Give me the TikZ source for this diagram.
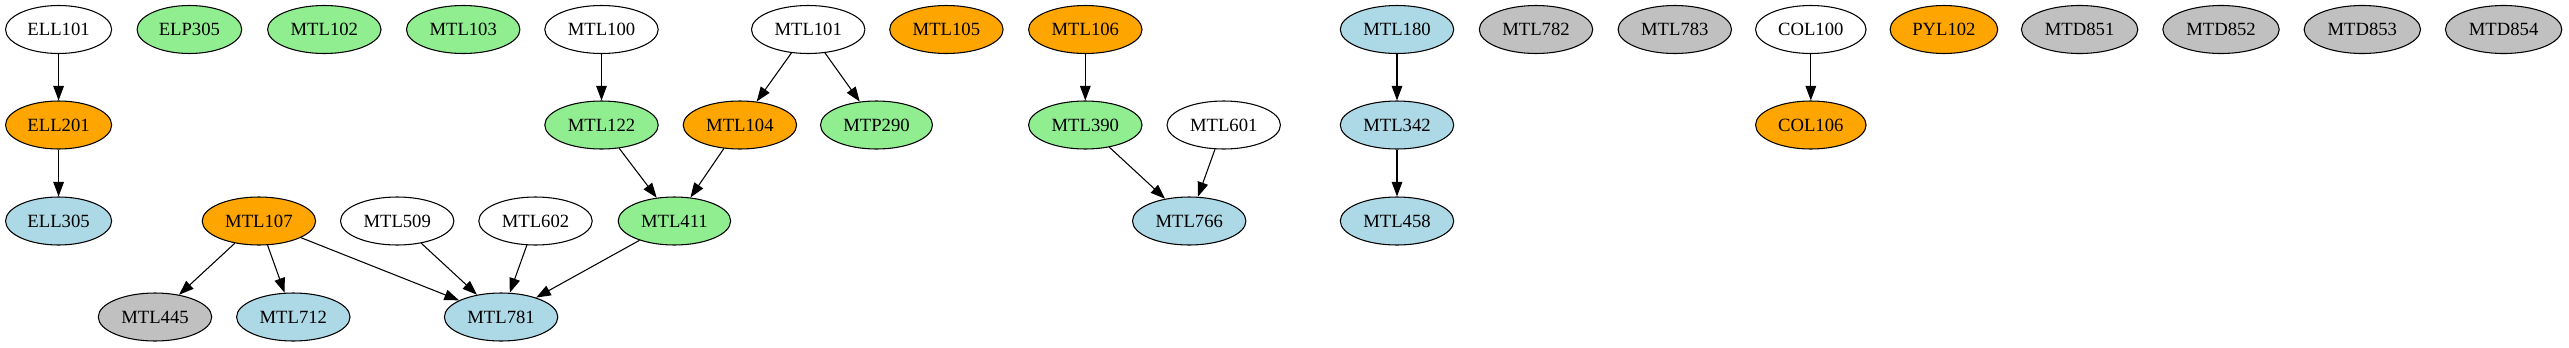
\documentclass[tikz,border=0pt]{standalone}
\usepackage{fontspec}
\setmainfont{Liberation Serif}
\usetikzlibrary{arrows.meta,shapes.geometric}
\definecolor{gvorange}{HTML}{FFA500}
\definecolor{gvgreen}{HTML}{90EE90}
\definecolor{gvblue}{HTML}{ADD8E6}
\definecolor{gvgray}{HTML}{C0C0C0}

\begin{document}
\begin{tikzpicture}[x=0.75pt,y=-0.75pt,
  course/.style={ellipse,draw,line width=0.8pt,minimum height=36pt,
    inner xsep=4.8pt,inner ysep=2pt,font=\fontsize{14}{16}\selectfont},
  pre/.style={-{Triangle[length=11pt,width=8pt]},line width=0.8pt}]
\fill[white] (0,0) rectangle (2569,347);
\useasboundingbox (0,0) rectangle (2569,347);
% first rank
\node[course,fill=white] (ell101) at (58.6,29.5) {ELL101};
\node[course,fill=gvgreen] (elp305) at (189.4,29.5) {ELP305};
\node[course,fill=gvgreen] (mtl102) at (324.3,29.5) {MTL102};
\node[course,fill=gvgreen] (mtl103) at (463.2,29.5) {MTL103};
\node[course,fill=white] (mtl100) at (601.5,29.5) {MTL100};
\node[course,fill=white] (mtl101) at (808.2,29.5) {MTL101};
\node[course,fill=gvorange] (mtl105) at (946.4,29.5) {MTL105};
\node[course,fill=gvorange] (mtl106) at (1085.3,29.5) {MTL106};
\node[course,fill=gvblue] (mtl180) at (1397,29.5) {MTL180};
\node[course,fill=gvgray] (mtl782) at (1536,29.5) {MTL782};
\node[course,fill=gvgray] (mtl783) at (1674.8,29.5) {MTL783};
\node[course,fill=white] (col100) at (1810.8,29.5) {COL100};
\node[course,fill=gvorange] (pyl102) at (1943.9,29.5) {PYL102};
\node[course,fill=gvgray] (mtd851) at (2079.6,29.5) {MTD851};
\node[course,fill=gvgray] (mtd852) at (2221,29.5) {MTD852};
\node[course,fill=gvgray] (mtd853) at (2362.3,29.5) {MTD853};
\node[course,fill=gvgray] (mtd854) at (2503.6,29.5) {MTD854};
% second rank
\node[course,fill=gvorange] (ell201) at (58.6,125) {ELL201};
\node[course,fill=gvgreen] (mtl122) at (601.5,125) {MTL122};
\node[course,fill=gvorange] (mtl104) at (739.9,125) {MTL104};
\node[course,fill=gvgreen] (mtp290) at (876.5,125) {MTP290};
\node[course,fill=gvgreen] (mtl390) at (1085.3,125) {MTL390};
\node[course,fill=white] (mtl601) at (1223.7,125) {MTL601};
\node[course,fill=gvblue] (mtl342) at (1397,125) {MTL342};
\node[course,fill=gvorange] (col106) at (1810.8,125) {COL106};
% third rank
\node[course,fill=gvblue] (ell305) at (58.6,221) {ELL305};
\node[course,fill=gvorange] (mtl107) at (258.9,221) {MTL107};
\node[course,fill=white] (mtl509) at (397.2,221) {MTL509};
\node[course,fill=white] (mtl602) at (535.5,221) {MTL602};
\node[course,fill=gvgreen] (mtl411) at (674.4,221) {MTL411};
\node[course,fill=gvblue] (mtl766) at (1189.2,221) {MTL766};
\node[course,fill=gvblue] (mtl458) at (1397,221) {MTL458};
% fourth rank
\node[course,fill=gvgray] (mtl445) at (155,317) {MTL445};
\node[course,fill=gvblue] (mtl712) at (293.3,317) {MTL712};
\node[course,fill=gvblue] (mtl781) at (501.1,317) {MTL781};
% prerequisites
\draw[pre] (ell101)--(ell201); \draw[pre] (ell201)--(ell305);
\draw[pre] (mtl100)--(mtl122); \draw[pre] (mtl101)--(mtl104);
\draw[pre] (mtl101)--(mtp290); \draw[pre] (mtl122)--(mtl411);
\draw[pre] (mtl104)--(mtl411); \draw[pre] (mtl106)--(mtl390);
\draw[pre] (mtl390)--(mtl766); \draw[pre] (mtl601)--(mtl766);
\draw[pre] (mtl180)--(mtl342); \draw[pre] (mtl342)--(mtl458);
\draw[pre] (col100)--(col106);
\draw[pre] (mtl107)--(mtl445); \draw[pre] (mtl107)--(mtl712);
\draw[pre] (mtl107)--(mtl781); \draw[pre] (mtl509)--(mtl781);
\draw[pre] (mtl602)--(mtl781); \draw[pre] (mtl411)--(mtl781);
\end{tikzpicture}
\end{document}
